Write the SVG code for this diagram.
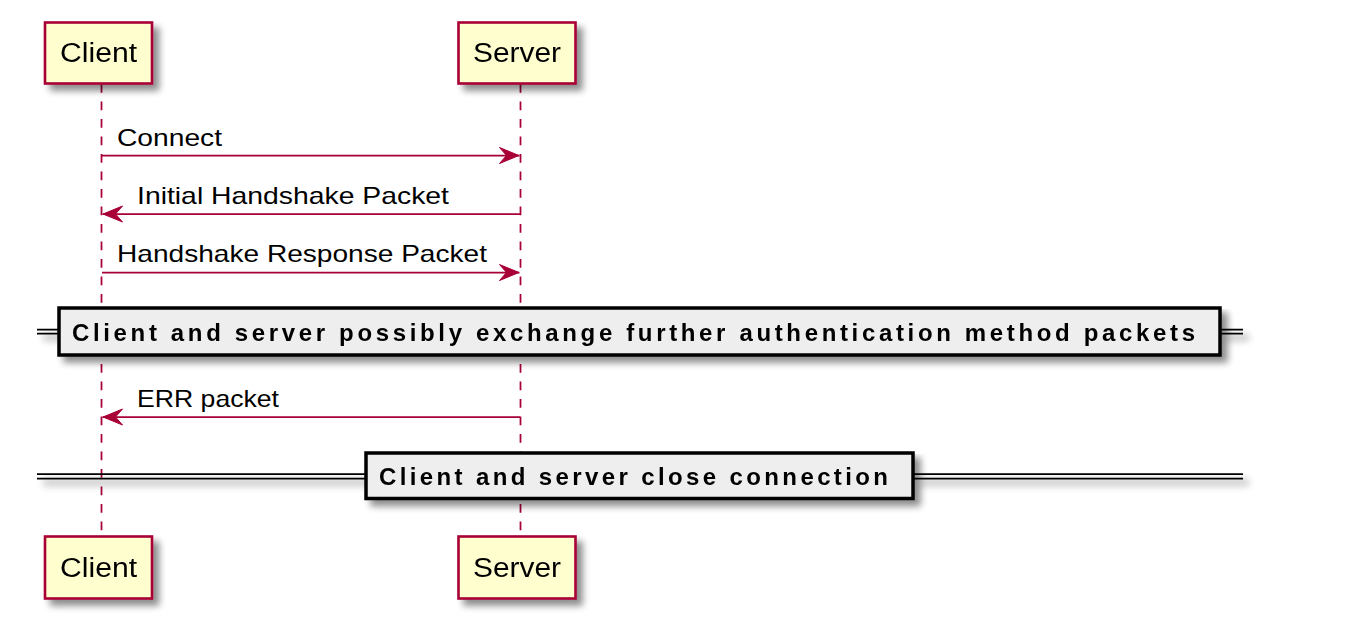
<svg xmlns="http://www.w3.org/2000/svg" width="1352" height="624" viewBox="0 0 1352 624">
<defs>
<filter id="sh" x="-10%" y="-10%" width="130%" height="150%">
<feGaussianBlur in="SourceAlpha" stdDeviation="3.5"/>
<feOffset dx="6" dy="6" result="b"/>
<feComponentTransfer><feFuncA type="linear" slope="0.45"/></feComponentTransfer>
<feMerge><feMergeNode/><feMergeNode in="SourceGraphic"/></feMerge>
</filter>
<marker id="ah" viewBox="0 0 21 18" refX="20.5" refY="9" markerWidth="21" markerHeight="18" markerUnits="userSpaceOnUse" orient="auto">
<polygon points="0.5,1 20,9 0.5,17 7.5,9" fill="#A80036" stroke="#A80036" stroke-width="1"/>
</marker>
</defs>
<style>
.part rect{fill:#FEFECE;stroke:#A80036;stroke-width:2.6}
.part text{font-family:"Liberation Sans",Arial,sans-serif;font-size:27px;fill:#000;text-anchor:middle}
.life{stroke:#A80036;stroke-width:1.75;stroke-dasharray:8.75,8.75;fill:none}
.msg{stroke:#A80036;stroke-width:1.75;fill:none;marker-end:url(#ah)}
.mt{font-family:"Liberation Sans",Arial,sans-serif;font-size:24px;fill:#000}
.dl{stroke:#000;stroke-width:1.75;fill:none}
.db{fill:#EEEEEE;stroke:#000;stroke-width:3.5}
.dt{font-family:"Liberation Sans",Arial,sans-serif;font-size:24px;font-weight:bold;fill:#000}
</style>
<rect width="1352" height="624" fill="#fff"/>
<g id="lifelines">
<line class="life" x1="101.5" y1="84" x2="101.5" y2="536"/>
<line class="life" x1="520.5" y1="84" x2="520.5" y2="536"/>
</g>
<g id="client-top" class="part" filter="url(#sh)">
<rect x="45" y="22.5" width="107" height="61"/>
<text x="98.5" y="62" textLength="77" lengthAdjust="spacingAndGlyphs">Client</text>
</g>
<g id="server-top" class="part" filter="url(#sh)">
<rect x="458.5" y="22.5" width="117" height="61"/>
<text x="517" y="62" textLength="88" lengthAdjust="spacingAndGlyphs">Server</text>
</g>
<g id="client-bottom" class="part" filter="url(#sh)">
<rect x="45" y="536.5" width="107" height="62"/>
<text x="98.5" y="577" textLength="77" lengthAdjust="spacingAndGlyphs">Client</text>
</g>
<g id="server-bottom" class="part" filter="url(#sh)">
<rect x="458.5" y="536.5" width="117" height="62"/>
<text x="517" y="577" textLength="88" lengthAdjust="spacingAndGlyphs">Server</text>
</g>
<g id="connectors">
<line class="msg" x1="102" y1="155.5" x2="519.5" y2="155.5"/>
<text class="mt" x="117" y="146" textLength="105" lengthAdjust="spacingAndGlyphs">Connect</text>
<line class="msg" x1="520" y1="214" x2="102.5" y2="214"/>
<text class="mt" x="137" y="204" textLength="312" lengthAdjust="spacingAndGlyphs">Initial Handshake Packet</text>
<line class="msg" x1="102" y1="272.5" x2="519.5" y2="272.5"/>
<text class="mt" x="117" y="262" textLength="370" lengthAdjust="spacingAndGlyphs">Handshake Response Packet</text>
<line class="msg" x1="520" y1="417" x2="102.5" y2="417"/>
<text class="mt" x="137" y="407" textLength="142" lengthAdjust="spacingAndGlyphs">ERR packet</text>
</g>
<g id="divider-auth" filter="url(#sh)">
<line class="dl" x1="37" y1="329.5" x2="1243" y2="329.5"/>
<line class="dl" x1="37" y1="333.5" x2="1243" y2="333.5"/>
<rect class="db" x="59" y="308" width="1161" height="47"/>
<text class="dt" x="72" y="340.5" textLength="1123" lengthAdjust="spacing">Client and server possibly exchange further authentication method packets</text>
</g>
<g id="divider-close" filter="url(#sh)">
<line class="dl" x1="37" y1="474" x2="1243" y2="474"/>
<line class="dl" x1="37" y1="478.5" x2="1243" y2="478.5"/>
<rect class="db" x="366" y="453" width="547" height="45.5"/>
<text class="dt" x="379" y="484.5" textLength="509" lengthAdjust="spacing">Client and server close connection</text>
</g>
</svg>
